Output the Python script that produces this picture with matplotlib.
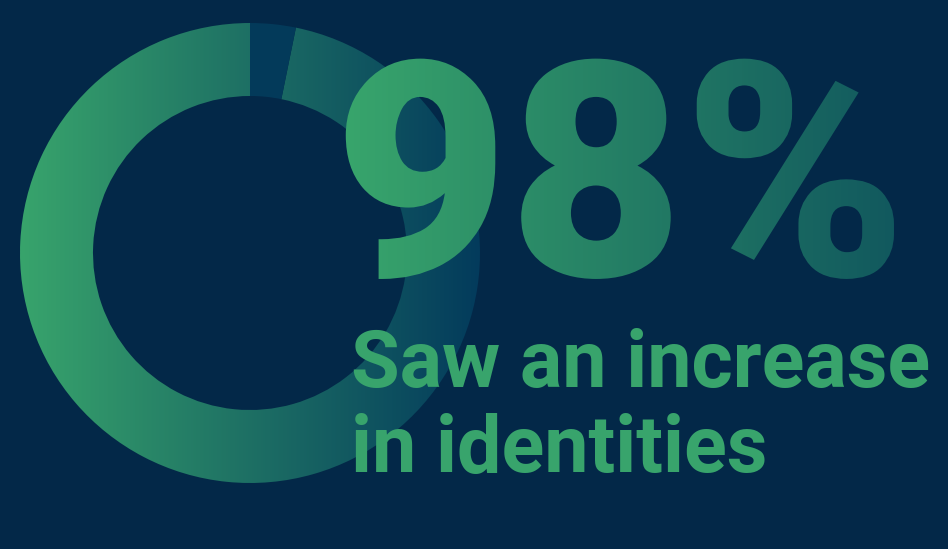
import numpy as np
import matplotlib
matplotlib.use("Agg")
import matplotlib.pyplot as plt
from matplotlib.colors import LinearSegmentedColormap
from matplotlib.patheffects import AbstractPathEffect
from matplotlib.transforms import TransformedPath

# data
segment_labels = ["Saw an increase", "Other"]
segment_shares = [96.8, 3.2]
headline = "98%"
caption_lines = ["Saw an increase", "in identities"]

BG = "#032848"
GREEN = "#38a46c"
GAP = "#033a5a"

ring_cmap = LinearSegmentedColormap.from_list("ring", [GREEN, "#033b5c"])
text_cmap = LinearSegmentedColormap.from_list("txt", ["#38a56c", "#11585e"])


class GradientFill(AbstractPathEffect):
    """fill the text glyphs with a horizontal gradient (display px)"""

    def __init__(self, cmap, x_from, x_to):
        super().__init__()
        self.cmap = cmap
        self.x_from = x_from
        self.x_to = x_to

    def draw_path(self, renderer, gc, tpath, affine, rgbFace=None):
        ext = affine.transform_path(tpath).get_extents()
        x0, y0 = int(np.floor(ext.x0)), int(np.floor(ext.y0))
        w = int(np.ceil(ext.x1)) - x0 + 1
        h = int(np.ceil(ext.y1)) - y0 + 1
        xs = x0 + np.arange(w) + 0.5
        t = np.clip((xs - self.x_from) / (self.x_to - self.x_from), 0, 1)
        row = (self.cmap(t) * 255).astype(np.uint8)
        img = np.ascontiguousarray(np.repeat(row[None, :, :], h, axis=0))
        gc2 = renderer.new_gc()
        gc2.copy_properties(gc)
        gc2.set_clip_path(TransformedPath(tpath, affine))
        renderer.draw_image(gc2, x0, y0, img)
        gc2.restore()


W, H = 948, 549
fig = plt.figure(figsize=(W / 100, H / 100), dpi=100, facecolor=BG)

# donut
cx, cy, r_out, r_in = 250, 253, 230, 157
ax = fig.add_axes([(cx - r_out) / W, (H - cy - r_out) / H, 2 * r_out / W, 2 * r_out / H])
wedges, _ = ax.pie(segment_shares, startangle=90, counterclock=True, radius=1,
                   wedgeprops=dict(width=(r_out - r_in) / r_out, linewidth=0))
wedges[0].set_facecolor("none")
wedges[1].set_facecolor(GAP)
grad = np.linspace(0, 1, 256)[None, :].repeat(2, axis=0)
ax.imshow(grad, cmap=ring_cmap, extent=(-1, 1, -1, 1), aspect="auto",
          clip_path=wedges[0], zorder=0)
ax.set_xlim(-1, 1)
ax.set_ylim(-1, 1)
ax.set_aspect("equal")
ax.axis("off")

# texts
tx = fig.add_axes([0, 0, 1, 1], zorder=5)
tx.set_xlim(0, W)
tx.set_ylim(H, 0)
tx.axis("off")
tx.patch.set_alpha(0)

t = tx.text(334, 276, headline, fontsize=217, family="Roboto", weight="black",
            ha="left", va="baseline")
t.set_path_effects([GradientFill(text_cmap, 345, 900)])

tx.text(351, 387, caption_lines[0], fontsize=57, family="Roboto", weight="bold",
        color=GREEN, ha="left", va="baseline")
tx.text(351, 472, caption_lines[1], fontsize=57, family="Roboto", weight="bold",
        color=GREEN, ha="left", va="baseline")

fig.savefig("out.png", dpi=100, facecolor=BG)
